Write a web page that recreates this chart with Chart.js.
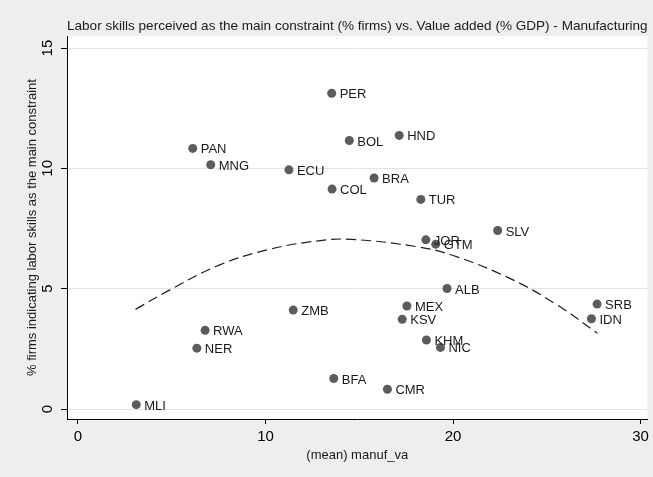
<!DOCTYPE html>
<html>
<head>
<meta charset="utf-8">
<script src="https://cdn.jsdelivr.net/npm/chart.js@4.4.1/dist/chart.umd.min.js"></script>
<style>
  html, body { margin: 0; padding: 0; background: #eeeeee; }
  #wrap { width: 653px; height: 477px; }
</style>
</head>
<body>
<div id="wrap"><canvas id="chart" width="653" height="477"></canvas></div>
<script>
// country codes and their values
const countries = ['PER', 'BOL', 'HND', 'PAN', 'MNG', 'ECU', 'COL', 'BRA', 'TUR', 'SLV', 'JOR', 'GTM', 'ALB',
    'MEX', 'KSV', 'KHM', 'NIC', 'SRB', 'IDN', 'ZMB', 'RWA', 'NER', 'BFA', 'CMR', 'MLI'];
const manufVa = [13.53, 14.47, 17.13, 6.12, 7.08, 11.25, 13.55, 15.79, 18.28, 22.38, 18.55, 19.08, 19.68,
    17.54, 17.29, 18.58, 19.33, 27.68, 27.38, 11.48, 6.78, 6.34, 13.64, 16.50, 3.11];
const laborSkills = [13.12, 11.16, 11.37, 10.83, 10.15, 9.94, 9.14, 9.60, 8.71, 7.42, 7.03, 6.85, 5.01,
    4.28, 3.73, 2.87, 2.56, 4.36, 3.75, 4.11, 3.27, 2.53, 1.27, 0.82, 0.18];

// quadratic fit line
const fitX = [3.07, 4.88, 7.53, 10.17, 12.82, 14.59, 18.12, 20.0, 23.0, 25.5, 27.7];
const fitY = [4.14, 4.94, 5.98, 6.63, 6.99, 7.05, 6.74, 6.38, 5.44, 4.35, 3.15];

const xTicks = [0, 10, 20, 30];
const yTicks = [0, 5, 10, 15];

const FONT = '"Liberation Sans", Arial, sans-serif';

// grey graph region, white plot region
const bgPlugin = {
    id: 'bg',
    beforeDraw(chart) {
        const { ctx, chartArea } = chart;
        ctx.save();
        ctx.fillStyle = '#eeeeee';
        ctx.fillRect(0, 0, chart.width, chart.height);
        ctx.fillStyle = '#ffffff';
        ctx.fillRect(chartArea.left, chartArea.top, chartArea.right - chartArea.left, chartArea.bottom - chartArea.top);
        ctx.restore();
    }
};

// country code to the right of each marker
const labelPlugin = {
    id: 'pointLabels',
    afterDatasetsDraw(chart) {
        const ctx = chart.ctx;
        const meta = chart.getDatasetMeta(0);
        ctx.save();
        ctx.font = '13px ' + FONT;
        ctx.fillStyle = '#1a1a1a';
        ctx.textAlign = 'left';
        ctx.textBaseline = 'middle';
        meta.data.forEach((pt, i) => {
            ctx.fillText(countries[i], pt.x + 8, pt.y + 1.5);
        });
        ctx.restore();
    }
};

new Chart(document.getElementById('chart'), {
    type: 'scatter',
    data: {
        datasets: [{
            label: 'countries',
            data: countries.map((c, i) => ({ x: manufVa[i], y: laborSkills[i] })),
            pointRadius: 4.5,
            pointBackgroundColor: '#5c5c5c',
            pointBorderWidth: 0,
            order: 1
        }, {
            label: 'fit',
            data: fitX.map((x, i) => ({ x: x, y: fitY[i] })),
            showLine: true,
            pointRadius: 0,
            borderColor: '#1e1e1e',
            borderWidth: 1.2,
            borderDash: [10, 5],
            tension: 0.4,
            fill: false,
            order: 2
        }]
    },
    options: {
        responsive: false,
        animation: false,
        layout: { padding: { left: 0, right: 2, top: 0, bottom: 0 } },
        plugins: {
            legend: { display: false },
            tooltip: { enabled: false },
            title: {
                display: true,
                text: 'Labor skills perceived as the main constraint (% firms) vs. Value added (% GDP) - Manufacturing',
                align: 'start',
                fullSize: false,
                color: '#1a1a1a',
                font: { family: FONT, size: 13.6, weight: 'normal' },
                padding: { top: 18.5, bottom: 1.2 }
            }
        },
        scales: {
            x: {
                type: 'linear',
                min: -0.583,
                max: 30.37,
                afterBuildTicks: s => { s.ticks = xTicks.map(v => ({ value: v })); },
                afterFit: s => { s.height = 58; },
                grid: { drawOnChartArea: false, drawTicks: true, tickLength: 5, tickColor: '#000' },
                border: { color: '#000', width: 1 },
                ticks: { padding: 4, color: '#000', font: { family: FONT, size: 15 } },
                title: {
                    display: true,
                    text: '(mean) manuf_va',
                    color: '#1a1a1a',
                    font: { family: FONT, size: 13 },
                    padding: { top: 0, bottom: 14 }
                }
            },
            y: {
                type: 'linear',
                min: -0.415,
                max: 15.5,
                afterBuildTicks: s => { s.ticks = yTicks.map(v => ({ value: v })); },
                afterFit: s => { s.width = 67; },
                grid: { color: '#e4e4e4', drawTicks: true, tickLength: 6, tickColor: '#000' },
                border: { color: '#000', width: 1 },
                ticks: {
                    padding: 5, color: '#000', minRotation: 90, maxRotation: 90, crossAlign: 'center',
                    font: { family: FONT, size: 15 }
                },
                title: {
                    display: true,
                    text: '% firms indicating labor skills as the main constraint',
                    color: '#1a1a1a',
                    font: { family: FONT, size: 13 },
                    padding: { top: 25, bottom: 0 }
                }
            }
        }
    },
    plugins: [bgPlugin, labelPlugin]
});
</script>
</body>
</html>
